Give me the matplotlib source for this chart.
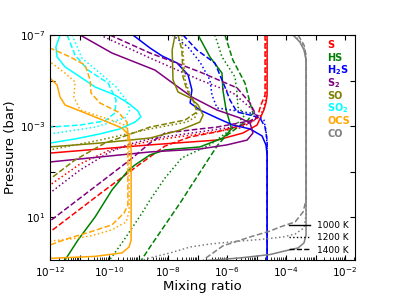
import numpy as np
import matplotlib
matplotlib.use("Agg")
import matplotlib.pyplot as plt
from matplotlib.lines import Line2D
from matplotlib.ticker import LogLocator, NullLocator, FixedLocator, FixedFormatter

# ---- data: log10(pressure [bar]) and log10(mixing ratio) ----
# S
S_1000_P = [-7.00, -4.37, -4.02, -3.71, -3.05, -2.70, -2.39, -2.18, -2.00, -1.82, -1.70]
S_1000_X = [-4.64, -4.64, -4.68, -4.75, -4.98, -5.46, -6.34, -8.61, -10.31, -12.00, -12.3]
S_1200_P = [-7.00, -4.28, -3.80, -3.45, -3.18, -2.92, -2.66, -2.39, -1.96, -1.34, -0.42, -0.20]
S_1200_X = [-4.68, -4.68, -4.75, -4.88, -5.15, -5.56, -6.92, -8.44, -9.97, -10.98, -12.00, -12.3]
S_1400_P = [-7.00, -4.37, -3.93, -3.36, -3.05, -2.75, -2.53, -2.13, -1.34, -0.03, 1.64, 1.80]
S_1400_X = [-4.71, -4.71, -4.85, -4.98, -5.46, -6.34, -7.25, -8.10, -8.95, -10.31, -12.00, -12.3]
# HS
HS_1000_P = [-7.00, -6.04, -5.33, -4.59, -3.71, -2.96, -2.79, -2.48, -2.09, -1.96, -1.74, -1.30, -1.04, -0.20, 0.98, 1.99, 2.87, 3.2]
HS_1000_X = [-6.98, -6.58, -6.17, -6.14, -6.03, -5.86, -5.90, -6.14, -6.92, -8.10, -8.61, -9.12, -9.36, -9.90, -10.47, -11.05, -11.49, -11.66]
HS_1200_P = [-7.00, -6.04, -5.16, -4.46, -3.84, -3.49, -2.92, -2.18, -1.61, -0.73, 0.24, 0.81, 2.12, 2.96]
HS_1200_X = [-6.41, -6.17, -5.73, -5.66, -5.63, -5.39, -5.80, -6.58, -7.53, -8.10, -8.61, -8.88, -9.56, -10.03]
HS_1400_P = [-7.00, -5.90, -4.89, -4.02, -3.58, -3.27, -2.96, -2.53, -2.18, -1.65, 0.37, 2.30, 2.91]
HS_1400_X = [-6.07, -5.80, -5.39, -5.22, -5.12, -5.29, -5.63, -6.07, -6.31, -6.58, -7.59, -8.61, -8.92]
# H2S
H2S_1000_P = [-7.20, -7.00, -6.43, -6.08, -5.77, -5.25, -4.59, -4.02, -3.71, -3.36, -3.05, -2.88, -2.57, -2.18, -1.74, 3.0]
H2S_1000_X = [-9.46, -9.19, -8.61, -8.20, -7.69, -7.32, -7.19, -7.25, -6.92, -6.34, -5.80, -5.22, -4.81, -4.68, -4.64, -4.64]
H2S_1200_P = [-7.00, -6.47, -5.82, -5.03, -4.37, -3.80, -3.67, -3.54, -3.27, -2.83, -2.18, 3.0]
H2S_1200_X = [-7.86, -7.32, -6.92, -6.58, -6.51, -6.34, -5.66, -5.05, -4.75, -4.68, -4.64, -4.64]
H2S_1400_P = [-7.00, -6.34, -5.77, -4.72, -4.15, -3.62, -3.49, -3.36, -2.96, -2.39, 3.0]
H2S_1400_X = [-7.49, -7.02, -6.41, -6.07, -5.90, -5.66, -5.22, -4.88, -4.71, -4.64, -4.64]
# S2
S2_1000_P = [-7.22, -7.00, -6.21, -5.46, -4.72, -4.28, -3.71, -3.36, -3.14, -2.70, -2.39, -2.18, -2.00, -1.87, -1.65, -1.43, -1.35]
S2_1000_X = [-11.25, -10.98, -9.90, -8.44, -7.66, -7.19, -6.34, -5.56, -5.22, -5.12, -5.32, -6.00, -6.92, -8.61, -10.31, -12.00, -12.3]
S2_1200_P = [-7.00, -5.99, -5.03, -4.46, -3.71, -3.36, -3.14, -2.96, -2.75, -2.44, -2.22, -1.87, -1.08, -0.07, 0.15]
S2_1200_X = [-10.31, -8.61, -6.92, -5.80, -5.12, -4.98, -5.22, -5.80, -6.92, -8.61, -9.29, -9.97, -10.98, -12.00, -12.3]
S2_1400_P = [-7.00, -6.21, -5.38, -4.68, -4.02, -3.40, -3.23, -2.96, -2.88, -2.70, -2.26, -1.52, -0.51, 1.16, 1.33]
S2_1400_X = [-9.97, -8.61, -6.92, -5.66, -5.22, -4.98, -5.22, -6.34, -6.92, -8.10, -8.61, -9.29, -10.31, -12.00, -12.3]
# SO
SO_1000_P = [-7.00, -6.34, -5.03, -4.50, -4.24, -3.93, -3.49, -3.18, -2.83, -2.48, -2.26, -2.09, -2.06]
SO_1000_X = [-7.76, -7.86, -7.83, -7.66, -7.25, -6.98, -6.81, -6.92, -7.59, -8.61, -10.31, -12.00, -12.3]
SO_1200_P = [-7.00, -6.21, -5.03, -4.37, -3.71, -3.40, -3.18, -2.88, -2.39, -1.96, -1.90]
SO_1200_X = [-7.53, -7.49, -7.42, -7.25, -6.98, -7.08, -7.36, -8.61, -10.31, -12.00, -12.3]
SO_1400_P = [-7.00, -6.34, -5.16, -4.59, -4.15, -3.62, -3.27, -2.96, -2.26, -1.52, -0.68, -0.55]
SO_1400_X = [-7.66, -7.53, -7.49, -7.36, -7.15, -7.02, -7.42, -8.61, -10.14, -11.15, -12.00, -12.3]
# SO2
SO2_1000_P = [-7.00, -6.47, -6.04, -5.60, -5.11, -4.72, -4.37, -4.02, -3.67, -3.40, -3.18, -2.88, -2.66, -2.44, -2.26, -2.2]
SO2_1000_X = [-11.66, -11.80, -11.76, -11.49, -10.92, -10.47, -9.80, -9.36, -9.02, -8.92, -9.12, -9.63, -10.31, -11.15, -12.00, -12.3]
SO2_1200_P = [-7.00, -5.99, -5.33, -4.72, -4.15, -3.71, -3.36, -2.96, -2.66, -2.6]
SO2_1200_X = [-11.25, -10.92, -10.31, -9.76, -9.42, -9.29, -9.46, -10.47, -12.00, -12.3]
SO2_1400_P = [-7.00, -6.12, -5.46, -4.89, -4.15, -3.58, -3.23, -3.05, -2.96, -2.93]
SO2_1400_X = [-11.42, -11.15, -10.71, -10.03, -9.76, -9.80, -10.14, -10.98, -12.00, -12.3]
# OCS
OCS_1000_P = [-5.46, -5.11, -4.81, -4.28, -3.93, -3.58, -3.23, -2.92, -2.61, -1.96, 1.99, 2.30, 2.56, 2.71, 2.80]
OCS_1000_X = [-12.17, -12.00, -11.76, -11.66, -11.49, -10.81, -10.14, -9.56, -9.32, -9.25, -9.25, -9.32, -9.56, -10.47, -12.00]
OCS_1200_P = [-6.12, -5.82, -5.33, -4.94, -4.28, -3.71, -3.36, -3.05, -2.61, 0.76, 1.20, 1.55, 1.82, 1.95, 2.04]
OCS_1200_X = [-12.27, -12.00, -11.49, -11.15, -11.19, -10.98, -10.14, -9.46, -9.32, -9.32, -9.42, -9.90, -10.64, -11.32, -12.00]
OCS_1400_P = [-6.61, -6.43, -6.04, -5.68, -5.03, -4.46, -4.02, -3.62, -3.18, -2.61, 0.46, 0.81, 1.33, 1.64, 1.90, 2.21]
OCS_1400_X = [-12.27, -12.00, -11.32, -10.81, -10.64, -10.61, -10.31, -9.69, -9.39, -9.36, -9.36, -9.49, -9.90, -10.64, -11.32, -12.00]
# CO
CO_1000_P = [-7.00, -6.69, -6.34, -5.90, 1.77, 2.12, 2.34, 2.47, 2.63, 2.78, 2.89, 2.96]
CO_1000_X = [-3.76, -3.53, -3.39, -3.32, -3.32, -3.39, -3.59, -4.03, -4.54, -5.56, -6.68, -7.25]
CO_1200_P = [-7.00, -6.69, -6.34, -5.90, 0.89, 1.46, 1.73, 1.86, 1.97, 2.04, 2.17, 2.30, 2.56, 2.78, 2.91]
CO_1200_X = [-3.73, -3.49, -3.36, -3.32, -3.32, -3.39, -3.69, -4.10, -4.88, -5.56, -6.58, -7.25, -7.93, -8.61, -8.95]
CO_1400_P = [-7.00, -6.56, -6.12, 0.24, 0.76, 1.20, 1.42, 1.60, 1.86, 2.25, 2.87]
CO_1400_X = [-3.59, -3.39, -3.32, -3.32, -3.42, -3.69, -4.20, -4.54, -5.22, -6.14, -6.81]

species_labels = ["S", "HS", r"H$_\mathbf{2}$S", r"S$_\mathbf{2}$", "SO", r"SO$_\mathbf{2}$", "OCS", "CO"]
species_colors = ["red", "green", "blue", "purple", "olive", "cyan", "orange", "grey"]
temperatures = ["1000 K", "1200 K", "1400 K"]
temp_styles = ["-", ":", "--"]

curves = [
    [(S_1000_P, S_1000_X), (S_1200_P, S_1200_X), (S_1400_P, S_1400_X)],
    [(HS_1000_P, HS_1000_X), (HS_1200_P, HS_1200_X), (HS_1400_P, HS_1400_X)],
    [(H2S_1000_P, H2S_1000_X), (H2S_1200_P, H2S_1200_X), (H2S_1400_P, H2S_1400_X)],
    [(S2_1000_P, S2_1000_X), (S2_1200_P, S2_1200_X), (S2_1400_P, S2_1400_X)],
    [(SO_1000_P, SO_1000_X), (SO_1200_P, SO_1200_X), (SO_1400_P, SO_1400_X)],
    [(SO2_1000_P, SO2_1000_X), (SO2_1200_P, SO2_1200_X), (SO2_1400_P, SO2_1400_X)],
    [(OCS_1000_P, OCS_1000_X), (OCS_1200_P, OCS_1200_X), (OCS_1400_P, OCS_1400_X)],
    [(CO_1000_P, CO_1000_X), (CO_1200_P, CO_1200_X), (CO_1400_P, CO_1400_X)],
]

fig = plt.figure(figsize=(3.94, 2.96), dpi=100)
ax = fig.add_axes([50 / 394, 1 - 260 / 296, 304.5 / 394, 225 / 296])

for color, sp in zip(species_colors, curves):
    for ls, (lp, lx) in zip(temp_styles, sp):
        ax.plot(10.0 ** np.array(lx), 10.0 ** np.array(lp), color=color, ls=ls, lw=1.1)

ax.set_xscale("log")
ax.set_yscale("log")
ax.set_xlim(1e-12, 10 ** -1.678)
ax.set_ylim(10 ** 2.87, 1e-7)

xt = [10.0 ** k for k in range(-12, -1)]
ax.xaxis.set_major_locator(FixedLocator(xt))
ax.xaxis.set_major_formatter(FixedFormatter(
    [r"$10^{%d}$" % k if k % 2 == 0 else "" for k in range(-12, -1)]))
ax.xaxis.set_minor_locator(LogLocator(base=10, subs=np.arange(2, 10), numticks=100))
yt = [1e-7, 1e-5, 1e-3, 1e-1, 1e1]
ax.yaxis.set_major_locator(FixedLocator(yt))
ax.yaxis.set_major_formatter(FixedFormatter([r"$10^{-7}$", "", r"$10^{-3}$", "", r"$10^{1}$"]))
ax.yaxis.set_minor_locator(NullLocator())
ax.tick_params(which="both", direction="in", top=True, right=True, labelsize=7.5)
ax.tick_params(which="minor", top=False)
ax.set_xlabel("Mixing ratio", fontsize=9.5, labelpad=1)
ax.set_ylabel("Pressure (bar)", fontsize=9.5, labelpad=2)

for i, (lab, col) in enumerate(zip(species_labels, species_colors)):
    ax.text(0.91, 0.956 - 0.0565 * i, lab, color=col, fontsize=7, fontweight="bold",
            transform=ax.transAxes, va="center", ha="left")

handles = [Line2D([], [], color="black", ls=ls, lw=1.0) for ls in temp_styles]
ax.legend(handles, temperatures, loc="lower right", frameon=False, fontsize=6.5,
          handlelength=2.3, handletextpad=0.8, labelspacing=0.35, borderaxespad=0.2)

fig.savefig("out.png", dpi=100)
